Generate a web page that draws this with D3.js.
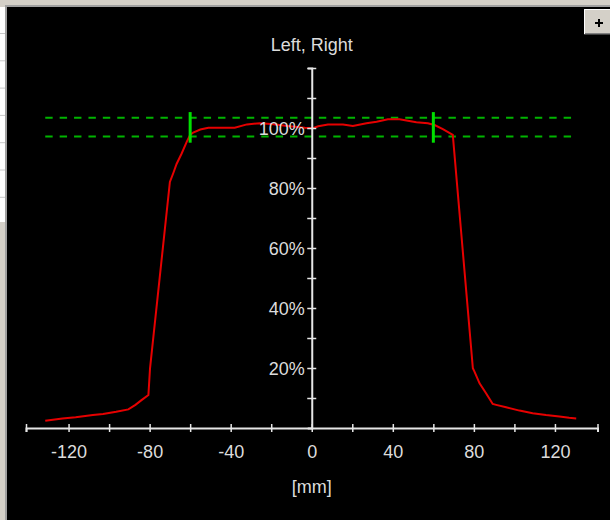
<!DOCTYPE html>
<html>
<head>
<meta charset="utf-8">
<script src="https://cdn.jsdelivr.net/npm/d3@7"></script>
<style>
  html, body { margin: 0; padding: 0; background: #d4d0c8; overflow: hidden; }
  svg { display: block; }
  text { font-family: "Liberation Sans", Arial, sans-serif; font-size: 18px; fill: #dcdcdc; }
</style>
</head>
<body>
<div id="chart"></div>
<script>
;(function () {

    // profile, position in mm and relative dose in %
    var positions = [
        -131.5, -123, -116.5, -108, -103, -96.5, -90.5, -87, -84, -80.6,
        -79.8, -70, -68.3, -66.7, -64.2, -61.7, -60, -58.5, -55, -51,
        -38, -32, -25.6, -20, -12, -3.4, 0.6, 3.2, 8, 15.4,
        20.3, 27, 32, 37.6, 43.3, 51.6, 57.3, 60.6, 64.7, 69.6,
        79.5, 80.3, 82.8, 86, 89.3, 91, 95.9, 102.5, 109, 115.6,
        122.2, 127, 130.5
    ];
    var values = [
        2.4, 3.2, 3.6, 4.3, 4.7, 5.4, 6.2, 7.7, 9.3, 11,
        19.9, 82, 85, 88, 91.5, 95.4, 97.7, 98.5, 99.5, 100.1,
        100.1, 101.2, 101.6, 101.3, 100.7, 100.1, 99.9, 100.6, 101.2, 101.2,
        100.7, 101.6, 102.1, 102.9, 102.9, 101.9, 101.6, 101, 99.6, 97.7,
        19.9, 18.8, 14.9, 11.6, 8, 7.7, 6.9, 5.8, 4.9, 4.3,
        3.8, 3.4, 3.2
    ];

    var tolerance = [97.2, 103.4];     // dashed limits, %
    var markers = [-60, 60];           // field edge markers, mm
    var markerSpan = [95.1, 105.3];    // marker height, %

    var xTicks = [-141, -120, -100, -80, -60, -40, -20, 0, 20, 40, 60, 80, 100, 120, 141];
    var xLabels = [-120, -80, -40, 0, 40, 80, 120];
    var yTicks = [10, 20, 30, 40, 50, 60, 70, 80, 90, 100, 110, 120];
    var yLabels = [20, 40, 60, 80, 100];

    var title = 'Left, Right';
    var xTitle = '[mm]';

    var width = 610
        , height = 520
        , axisColor = '#e6e6e6';

    var svg = d3.select('#chart').append('svg')
        .attr('width', width)
        .attr('height', height);

    // window frame
    svg.append('rect').attr('width', width).attr('height', height).attr('fill', '#d4d0c8');
    svg.append('rect').attr('x', 0).attr('y', 7).attr('width', 5).attr('height', 215).attr('fill', '#ffffff');
    svg.selectAll('.rowline')
        .data(d3.range(7))
        .enter().append('line')
        .attr('class', 'rowline')
        .attr('x1', 0).attr('x2', 5)
        .attr('y1', function (d) { return 33.5 + d * 27.3; })
        .attr('y2', function (d) { return 33.5 + d * 27.3; })
        .attr('stroke', '#c8c8c8');
    svg.append('rect').attr('x', 5).attr('y', 5).attr('width', 2).attr('height', height).attr('fill', '#a0a0a0');
    svg.append('rect').attr('x', 5).attr('y', 5).attr('width', width).attr('height', 2).attr('fill', '#a0a0a0');
    svg.append('rect').attr('x', 7).attr('y', 7).attr('width', width - 7).attr('height', height - 7).attr('fill', '#000');

    var x = d3.scaleLinear().domain([-141, 141]).range([26, 597.5]);
    var y = d3.scaleLinear().domain([0, 120]).range([428, 68]);

    // tolerance band
    var x0 = x(positions[0]), x1 = x(positions[positions.length - 1]);
    svg.selectAll('.limit')
        .data(tolerance)
        .enter().append('line')
        .attr('class', 'limit')
        .attr('x1', x0).attr('x2', x1)
        .attr('y1', function (d) { return y(d); })
        .attr('y2', function (d) { return y(d); })
        .attr('stroke', '#00b400')
        .attr('stroke-width', 2)
        .attr('stroke-dasharray', '7.4,7');

    // profile
    var line = d3.line()
        .x(function (d, i) { return x(positions[i]); })
        .y(function (d) { return y(d); });

    svg.append('path')
        .datum(values)
        .attr('fill', 'none')
        .attr('stroke', '#e60000')
        .attr('stroke-width', 2)
        .attr('d', line);

    // field edge markers
    svg.selectAll('.marker')
        .data(markers)
        .enter().append('line')
        .attr('class', 'marker')
        .attr('x1', function (d) { return x(d); })
        .attr('x2', function (d) { return x(d); })
        .attr('y1', y(markerSpan[0]))
        .attr('y2', y(markerSpan[1]))
        .attr('stroke', '#00e000')
        .attr('stroke-width', 3);

    // x axis
    var gx = svg.append('g')
        .attr('transform', 'translate(0,' + y(0) + ')')
        .call(d3.axisBottom(x)
            .tickValues(xTicks)
            .tickSizeOuter(0)
            .tickSize(4)
            .tickFormat(function (d) { return xLabels.indexOf(d) >= 0 ? d : ''; }));
    gx.select('.domain').attr('stroke', axisColor).attr('stroke-width', 2);
    gx.selectAll('.tick line').attr('stroke', axisColor).attr('stroke-width', 1.5).attr('y1', -4).attr('y2', 4);
    gx.selectAll('.tick text')
        .attr('y', 30).attr('dy', 0)
        .attr('fill', '#dcdcdc')
        .style('font-size', '18px')
        .style('font-family', '"Liberation Sans", Arial, sans-serif')
        .text(function (d) { return xLabels.indexOf(d) >= 0 ? String(d) : ''; });

    // y axis
    var gy = svg.append('g')
        .attr('transform', 'translate(' + x(0) + ',0)')
        .call(d3.axisLeft(y)
            .tickValues(yTicks)
            .tickSizeOuter(0)
            .tickSize(4)
            .tickFormat(function (d) { return yLabels.indexOf(d) >= 0 ? d + '%' : ''; }));
    gy.select('.domain').attr('stroke', axisColor).attr('stroke-width', 2);
    gy.selectAll('.tick line').attr('stroke', axisColor).attr('stroke-width', 1.5).attr('x1', -4.5).attr('x2', 4.5);
    gy.selectAll('.tick text')
        .attr('x', -7).attr('dy', '0.36em')
        .attr('fill', '#dcdcdc')
        .style('font-size', '18px')
        .style('font-family', '"Liberation Sans", Arial, sans-serif');

    // titles
    svg.append('text')
        .attr('x', x(0))
        .attr('y', 50.5)
        .attr('text-anchor', 'middle')
        .text(title);

    svg.append('text')
        .attr('x', x(0))
        .attr('y', 493)
        .attr('text-anchor', 'middle')
        .text(xTitle);

    // the little "+" button
    var btn = svg.append('g').attr('transform', 'translate(584,9)');
    btn.append('rect').attr('width', 26).attr('height', 26).attr('fill', '#d4d0c8');
    btn.append('path').attr('d', 'M0.5,25.5V0.5H26').attr('fill', 'none').attr('stroke', '#ffffff');
    btn.append('path').attr('d', 'M0,25.5H26').attr('fill', 'none').attr('stroke', '#404040');
    btn.append('path').attr('d', 'M1,24.5H26').attr('fill', 'none').attr('stroke', '#808080');
    btn.append('path').attr('d', 'M11,14H19M15,10V18').attr('stroke', '#000').attr('stroke-width', 2);

}());
</script>
</body>
</html>
